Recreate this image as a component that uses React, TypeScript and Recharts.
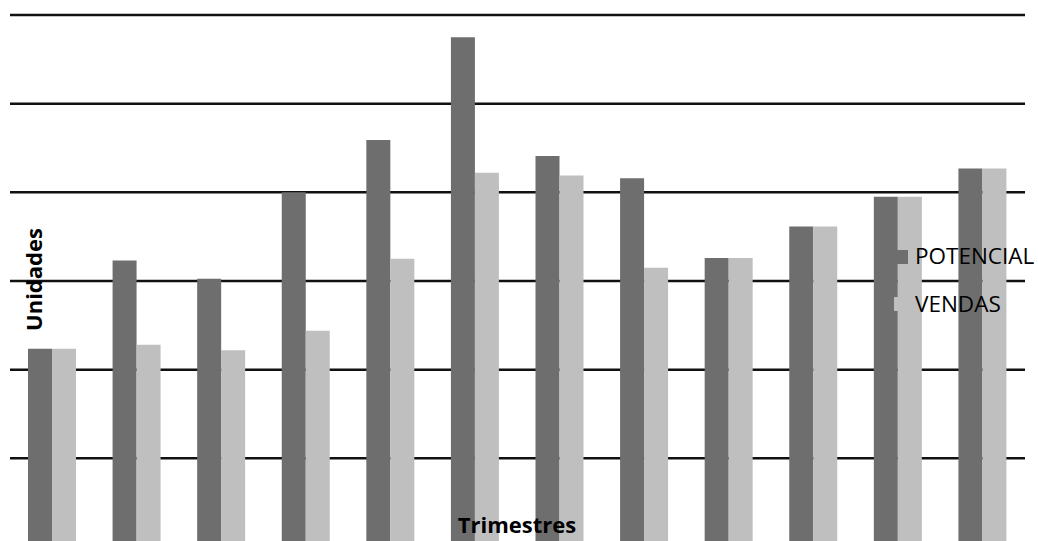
import React from 'react';
import { BarChart, Bar, XAxis, YAxis, CartesianGrid, Legend } from 'recharts';

const quarters = ['T1', 'T2', 'T3', 'T4', 'T5', 'T6', 'T7', 'T8', 'T9', 'T10', 'T11', 'T12'];
const potencial = [22.35, 32.3, 30.25, 40.0, 45.9, 57.5, 44.1, 41.6, 32.6, 36.15, 39.5, 42.7];
const vendas = [22.35, 22.8, 22.2, 24.4, 32.5, 42.2, 41.9, 31.5, 32.6, 36.15, 39.5, 42.7];
const yTicks = [0, 10, 20, 30, 40, 50, 60];
const seriesNames = ['POTENCIAL', 'VENDAS'];
const seriesColors = ['#6e6e6e', '#bfbfbf'];

const data = quarters.map((q, i) => ({ q, potencial: potencial[i], vendas: vendas[i] }));

const FONT = '"Open Sans", "Noto Sans", sans-serif';

const renderLegend = (props: any) => {
  const payload = props.payload || [];
  return (
    <div style={{ fontFamily: FONT, fontSize: 22.5, color: '#000', whiteSpace: 'nowrap', width: 0, height: 0, overflow: 'visible' }}>
      {payload.map((p: any) => (
        <div key={p.value} style={{ display: 'flex', alignItems: 'center', height: 47.5 }}>
          <span style={{ display: 'inline-block', flex: '0 0 14px', width: 14, height: 14, background: p.color, marginRight: 7 }} />
          <span style={{ lineHeight: 1 }}>{p.value}</span>
        </div>
      ))}
    </div>
  );
};

const emptyTick = () => <g />;

export default function App() {
  return (
    <div style={{ position: 'fixed', left: 0, top: 0, width: 1038, height: 541, overflow: 'hidden', background: '#fff' }}>
      <BarChart
        width={1038}
        height={560}
        data={data}
        margin={{ top: 15, right: 13, bottom: 13, left: 10 }}
        barGap={0}
      >
        <CartesianGrid vertical={false} stroke="#111" strokeWidth={2.5} />
        <XAxis dataKey="q" hide />
        <YAxis domain={[0, 60]} ticks={yTicks} width={0} tick={emptyTick} axisLine={false} tickLine={false} />
        <Legend
          layout="horizontal"
          verticalAlign="middle"
          align="right"
          content={renderLegend}
          wrapperStyle={{ left: 894, top: 232.75, width: 0, height: 0, overflow: 'visible' }}
        />
        <Bar dataKey="potencial" name={seriesNames[0]} fill={seriesColors[0]} barSize={24} isAnimationActive={false} />
        <Bar dataKey="vendas" name={seriesNames[1]} fill={seriesColors[1]} barSize={24} isAnimationActive={false} />
      </BarChart>
      <svg width={1038} height={541} style={{ position: 'absolute', left: 0, top: 0, pointerEvents: 'none' }}>
        <text x={517} y={533} textAnchor="middle" fontFamily={FONT} fontWeight="bold" fontSize={22} fill="#000">
          Trimestres
        </text>
        <text
          transform="translate(41.5,279.5) rotate(-90)"
          textAnchor="middle"
          fontFamily={FONT}
          fontWeight="bold"
          fontSize={22}
          fill="#000"
        >
          Unidades
        </text>
      </svg>
    </div>
  );
}
